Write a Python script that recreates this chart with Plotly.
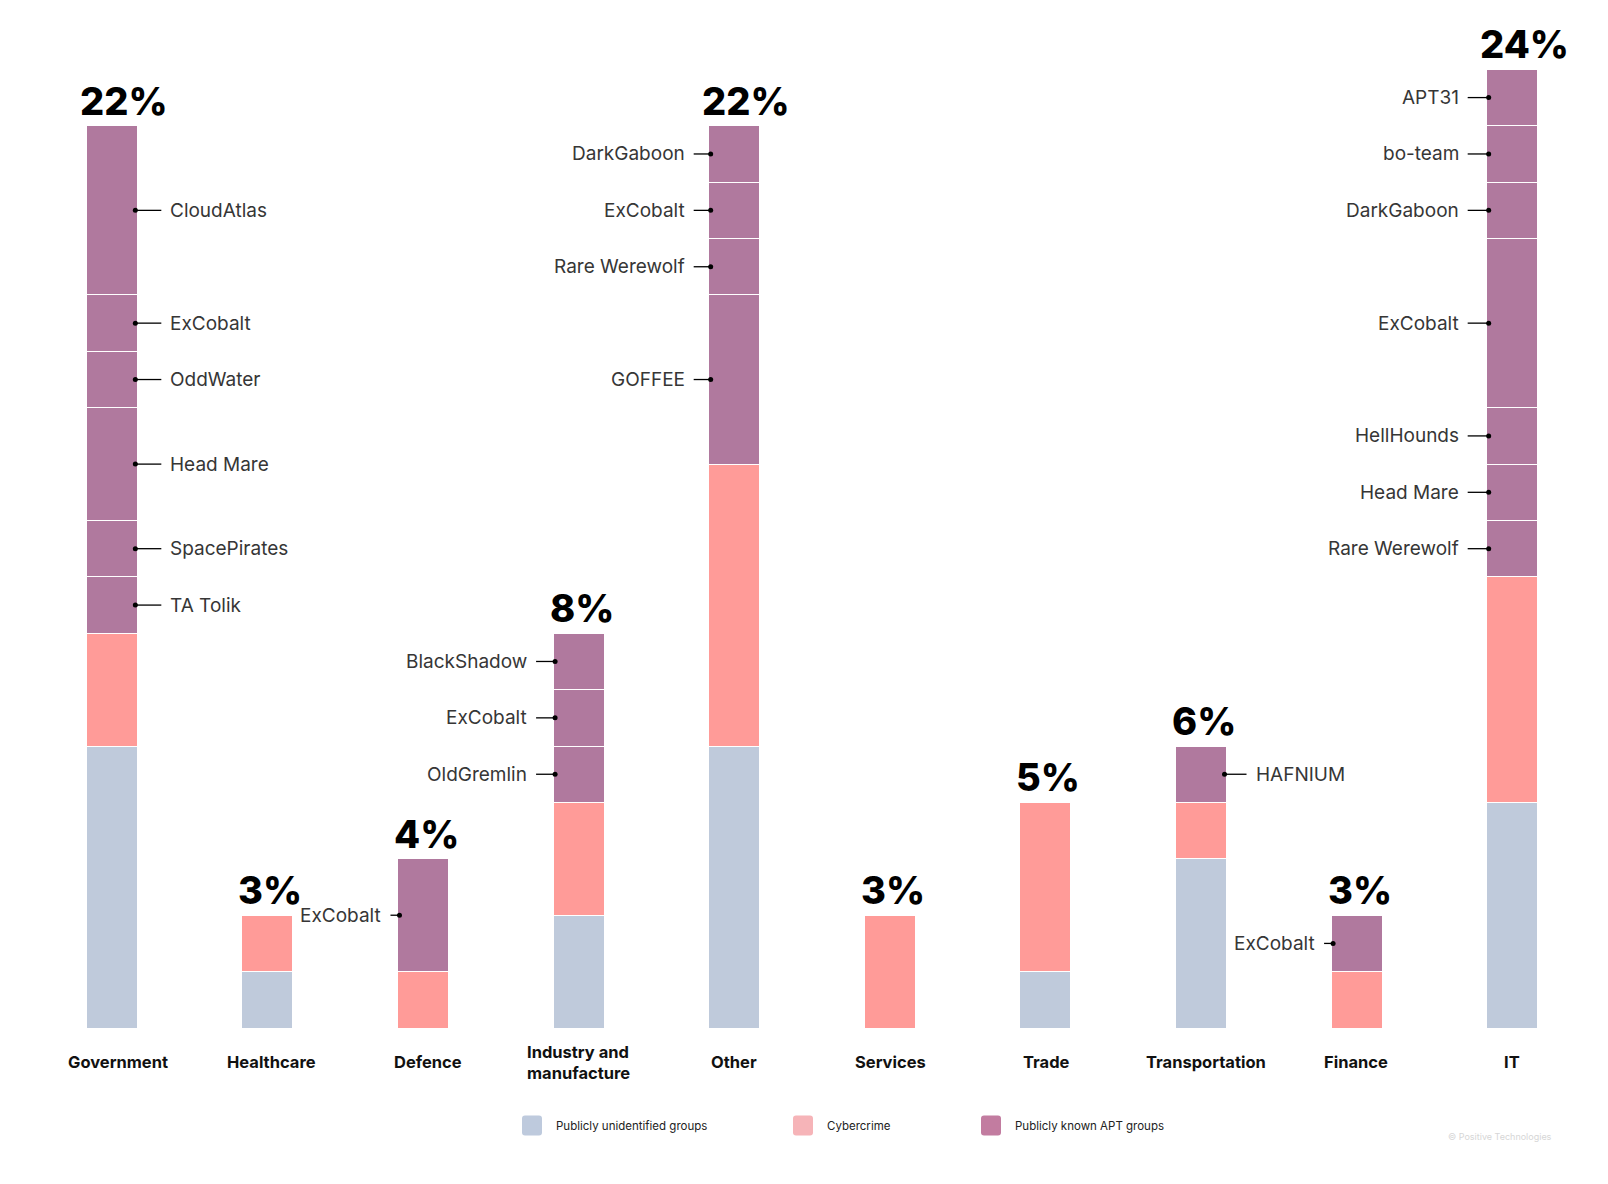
import plotly.graph_objects as go

# ---------------- data ----------------
categories = ["Government", "Healthcare", "Defence", "Industry and<br>manufacture", "Other",
              "Services", "Trade", "Transportation", "Finance", "IT"]
pct_labels = ["22%", "3%", "4%", "8%", "22%", "3%", "5%", "6%", "3%", "24%"]
unidentified = [5, 1, 0, 2, 5, 0, 1, 3, 0, 4]
cybercrime = [2, 1, 1, 2, 5, 2, 3, 1, 1, 4]
# publicly known APT groups per category, bottom to top: (name, size)
apt_government = [("TA Tolik", 1), ("SpacePirates", 1), ("Head Mare", 2), ("OddWater", 1), ("ExCobalt", 1), ("CloudAtlas", 3)]
apt_healthcare = []
apt_defence = [("ExCobalt", 2)]
apt_industry = [("OldGremlin", 1), ("ExCobalt", 1), ("BlackShadow", 1)]
apt_other = [("GOFFEE", 3), ("Rare Werewolf", 1), ("ExCobalt", 1), ("DarkGaboon", 1)]
apt_services = []
apt_trade = []
apt_transport = [("HAFNIUM", 1)]
apt_finance = [("ExCobalt", 1)]
apt_it = [("Rare Werewolf", 1), ("Head Mare", 1), ("HellHounds", 1), ("ExCobalt", 3), ("DarkGaboon", 1), ("bo-team", 1), ("APT31", 1)]
apt_groups = [apt_government, apt_healthcare, apt_defence, apt_industry, apt_other,
              apt_services, apt_trade, apt_transport, apt_finance, apt_it]
legend_names = ["Publicly unidentified groups", "Cybercrime", "Publicly known APT groups"]

# ---------------- style ----------------
label_side = ["right", "left", "left", "left", "left", "left", "left", "right", "left", "left"]
leader_px = [24, 20, 7, 17, 15, 20, 20, 20, 7, 19]
cat_label_shift = [6, 4, 5, 0, 0, 1, 1, 5, -1, 0]
C_BLUE, C_PINK, C_PURPLE = "#BFCADB", "#FF9B98", "#B0799E"
L_BLUE, L_PINK, L_PURPLE = "#BECADD", "#F6B4B8", "#C27CA0"
BAR_W = 0.328
PAGE_OFF = 8  # default body margin of the html page
W, H = 1600, 1176
ML, MR, MT, MB = 26, 18, 5, 156
PW, PH = W - ML - MR, H - MT - MB
X_UNIT = PW / 10.0

xs = list(range(len(categories)))

fig = go.Figure()
line_style = dict(color="white", width=1)
fig.add_trace(go.Bar(x=xs, y=unidentified, width=BAR_W, marker=dict(color=C_BLUE, line=line_style),
                     name=legend_names[0], showlegend=False, hoverinfo="skip"))
fig.add_trace(go.Bar(x=xs, y=cybercrime, width=BAR_W, marker=dict(color=C_PINK, line=line_style),
                     name=legend_names[1], showlegend=False, hoverinfo="skip"))
n_layers = max(len(g) for g in apt_groups)
for k in range(n_layers):
    vals = [g[k][1] if k < len(g) else 0 for g in apt_groups]
    fig.add_trace(go.Bar(x=xs, y=vals, width=BAR_W, marker=dict(color=C_PURPLE, line=line_style),
                         name=legend_names[2], showlegend=False, hoverinfo="skip"))

annotations = []
shapes = []
lx, ly, dx, dy = [], [], [], []
for i in xs:
    base = unidentified[i] + cybercrime[i]
    sgn = 1 if label_side[i] == "right" else -1
    edge = i + sgn * BAR_W / 2
    for name, size in apt_groups[i]:
        yc = base + size / 2
        base += size
        dot_x = edge - sgn * 2 / X_UNIT
        end_x = edge + sgn * leader_px[i] / X_UNIT
        lx += [dot_x, end_x, None]
        ly += [yc, yc, None]
        dx.append(dot_x)
        dy.append(yc)
        annotations.append(dict(x=end_x, y=yc, xref="x", yref="y", text=name, showarrow=False,
                                xanchor="left" if sgn > 0 else "right", yanchor="middle",
                                xshift=sgn * 7, font=dict(family="Inter", size=19, color="#363636")))
    total = unidentified[i] + cybercrime[i] + sum(s for _, s in apt_groups[i])
    annotations.append(dict(x=i, y=total, xref="x", yref="y", text=pct_labels[i], showarrow=False,
                            xanchor="center", yanchor="bottom",
                            xshift=12 if len(pct_labels[i]) > 2 else 3, yshift=0,
                            font=dict(family="Inter", size=38, color="#000000", weight=800)))
    annotations.append(dict(x=i, y=0, xref="x", yref="y", text=categories[i], showarrow=False,
                            xanchor="center", yanchor="middle", yshift=-34, xshift=cat_label_shift[i],
                            align="left",
                            font=dict(family="Inter", size=16.5, color="#111111", weight=700)))

fig.add_trace(go.Scatter(x=lx, y=ly, mode="lines", line=dict(color="#000000", width=1.3),
                         showlegend=False, hoverinfo="skip"))
fig.add_trace(go.Scatter(x=dx, y=dy, mode="markers", marker=dict(color="#000000", size=5),
                         showlegend=False, hoverinfo="skip"))

# custom legend (positions given in screen pixels)
def pxx(p):
    return (p - PAGE_OFF - ML) / PW

def pxy(p):
    return (H - MB - (p - PAGE_OFF)) / PH

leg_x = [522, 793, 981]
leg_cols = [L_BLUE, L_PINK, L_PURPLE]
yc_px = 1125.5
for lxp, col, nm in zip(leg_x, leg_cols, legend_names):
    x0, x1 = pxx(lxp), pxx(lxp + 20)
    y0, y1 = pxy(yc_px + 10), pxy(yc_px - 10)
    rx, ry = 3 / PW, 3 / PH
    path = (f"M{x0+rx},{y0} L{x1-rx},{y0} Q{x1},{y0} {x1},{y0+ry} L{x1},{y1-ry} Q{x1},{y1} {x1-rx},{y1} "
            f"L{x0+rx},{y1} Q{x0},{y1} {x0},{y1-ry} L{x0},{y0+ry} Q{x0},{y0} {x0+rx},{y0} Z")
    shapes.append(dict(type="path", path=path, xref="paper", yref="paper", fillcolor=col,
                       line=dict(width=0)))
    annotations.append(dict(x=pxx(lxp + 32), y=pxy(yc_px), xref="paper", yref="paper", text=nm,
                            showarrow=False, xanchor="left", yanchor="middle",
                            font=dict(family="Inter", size=11.5, color="#222222")))

annotations.append(dict(x=pxx(1446), y=pxy(1136), xref="paper", yref="paper",
                        text="© Positive Technologies", showarrow=False, xanchor="left", yanchor="middle",
                        font=dict(family="Inter", size=9, color="#D6D6D6")))

fig.update_layout(
    width=W, height=H, barmode="stack",
    margin=dict(l=ML, r=MR, t=MT, b=MB),
    paper_bgcolor="white", plot_bgcolor="white",
    xaxis=dict(range=[-0.5, 9.5], visible=False, fixedrange=True),
    yaxis=dict(range=[0, 18], visible=False, fixedrange=True),
    annotations=annotations, shapes=shapes, showlegend=False,
)
fig.write_html("out.html")
